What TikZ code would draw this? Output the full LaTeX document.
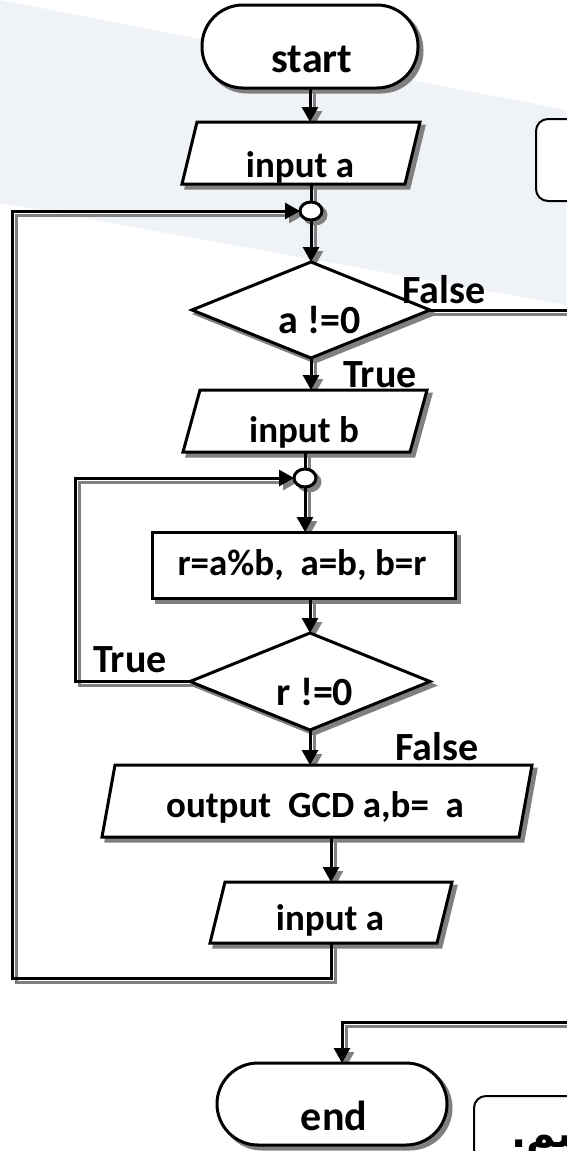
\documentclass[tikz,border=0pt]{standalone}
\usepackage{fontspec}
\setmainfont{Carlito}
\newfontfamily\arabicfont[Script=Arabic]{DejaVu Sans}
\TeXXeTstate=1
\usetikzlibrary{shapes.geometric,shadows,arrows.meta}
\pgfdeclarelayer{back}
\pgfdeclarelayer{lineshadow}
\pgfsetlayers{back,lineshadow,main}
\definecolor{shadowgray}{HTML}{808080}
\definecolor{bandblue}{HTML}{EFF2F6}

\tikzset{
  base/.style={draw=black, line width=3pt, fill=white, inner sep=0pt, outer sep=0pt,
    drop shadow={shadow xshift=4pt, shadow yshift=-4pt, fill=shadowgray,
                 draw=shadowgray, line width=3pt, opacity=1}},
  terminal/.style={base, rectangle, rounded corners=41pt, minimum height=83pt},
  decision/.style={base, diamond},
  process/.style={base, rectangle},
  junction/.style={base, ellipse, minimum width=22pt, minimum height=18pt},
  frame/.style={inner sep=0pt, outer sep=0pt},
  paraout/.style={fill=white, draw=black, line width=3pt},
  parashadow/.style={fill=shadowgray, draw=shadowgray, line width=3pt, shift={(4,4)}},
  notebox/.style={draw=black, line width=2pt, fill=white, rounded corners=12pt, inner sep=0pt},
  flow/.style={draw=black, line width=3pt},
  shadowline/.style={draw=shadowgray, line width=3pt, transform canvas={xshift=4pt,yshift=-4pt}},
  arrowed/.style={-{Triangle[length=15pt,width=16pt]}},
  txt/.style={inner sep=0pt, font=\bfseries\fontsize{37}{37}\selectfont},
  bigtxt/.style={inner sep=0pt, font=\bfseries\fontsize{42}{42}\selectfont},
  lbl/.style={inner sep=0pt, font=\bfseries\fontsize{40}{40}\selectfont},
}

% connector with its grey offset shadow underneath the shapes
\newcommand\flowpath[2][]{%
  \begin{pgfonlayer}{lineshadow}\draw[shadowline,#1] #2;\end{pgfonlayer}%
  \draw[flow,#1] #2;}

% input/output parallelogram: name, centre x, centre y, width, height, slant
\newcommand\parabox[6]{%
  \node[frame, minimum width=#4pt, minimum height=#5pt] (#1) at (#2,#3) {};
  \path[parashadow] ({#2-#4/2},{#3+#5/2}) -- ({#2-#4/2+#6},{#3-#5/2})
     -- ({#2+#4/2},{#3-#5/2}) -- ({#2+#4/2-#6},{#3+#5/2}) -- cycle;
  \path[paraout] ({#2-#4/2},{#3+#5/2}) -- ({#2-#4/2+#6},{#3-#5/2})
     -- ({#2+#4/2},{#3-#5/2}) -- ({#2+#4/2-#6},{#3+#5/2}) -- cycle;}

\begin{document}
\begin{tikzpicture}[x=1pt, y=-1pt]
\useasboundingbox (0,0) rectangle (566,1151);

% pale band behind the upper part
\begin{pgfonlayer}{back}
  \fill[bandblue] (0,0) -- (566,110) -- (566,305) -- (0,203) -- cycle;
\end{pgfonlayer}

% side notes, cut by the page edge
\node[notebox, anchor=north west, minimum width=110pt, minimum height=82pt] (noteTop) at (535,118) {};
\node[notebox, anchor=north west, minimum width=130pt, minimum height=110pt] (noteBot) at (473,1095) {};
\node[anchor=base west, inner sep=0pt, font=\arabicfont\bfseries\fontsize{40}{40}\selectfont]
  (noteBotT) at (511,1147) {\beginR ^^^^200dسم.\endR};

% shapes
\node[terminal, minimum width=216pt] (start) at (310,46.5) {};
\parabox{ina1}{301}{153}{238}{62}{15}
\node[junction] (j1) at (311,211) {};
\node[decision, minimum width=238pt, minimum height=96pt] (d1) at (311,310) {};
\parabox{inb}{305}{421}{244}{62}{17}
\node[junction] (j2) at (305,478) {};
\node[process, minimum width=303pt, minimum height=66pt] (proc) at (303.5,565) {};
\node[decision, minimum width=240pt, minimum height=97pt] (d2) at (310,681.5) {};
\parabox{out}{317}{801}{430}{72}{13}
\parabox{ina2}{331}{912.5}{242}{61}{15}
\node[terminal, minimum width=230pt, minimum height=82pt] (end) at (332,1104) {};

% texts
\node[bigtxt, anchor=base] (startT) at (312,72) {start};
\node[txt, anchor=base] (ina1T) at (300,177) {input a};
\node[lbl, anchor=base] (d1T) at (320,333) {a !=0};
\node[txt, anchor=base] (inbT) at (304,442) {input b};
\node[txt, anchor=base] (procT) at (302,575) {r=a\%b,\ \ a=b, b=r};
\node[lbl, anchor=base] (d2T) at (315,705) {r !=0};
\node[txt, anchor=base] (outT) at (315,817) {output\ \ GCD a,b=\ \ a};
\node[txt, anchor=base] (ina2T) at (330,930) {input a};
\node[bigtxt, anchor=base] (endT) at (334,1130) {end};

\node[lbl, anchor=base west] (f1) at (402,303) {False};
\node[lbl, anchor=base west] (t1) at (343,387) {True};
\node[lbl, anchor=base west] (t2) at (93,672) {True};
\node[lbl, anchor=base west] (f2) at (395,760) {False};

% bend points of the loops and of the exit path
\coordinate (loopA) at (12,978);
\coordinate (loopB) at (75,681.5);
\coordinate (offR) at (600,310);
\coordinate (endBend) at (342,1022);

% connectors
\flowpath[arrowed]{(start.south) -- (start.south |- ina1.north)}
\flowpath{(ina1.south -| j1.north) -- (j1.north)}
\flowpath[arrowed]{(j1.south) -- (j1.south |- d1.north)}
\flowpath[arrowed]{(d1.south) -- (d1.south |- inb.north)}
\flowpath{(inb.south -| j2.north) -- (j2.north)}
\flowpath[arrowed]{(j2.south) -- (j2.south |- proc.north)}
\flowpath[arrowed]{(proc.south -| d2.north) -- (d2.north)}
\flowpath[arrowed]{(d2.south) -- (d2.south |- out.north)}
\flowpath[arrowed]{(out.south -| ina2.north) -- (ina2.north)}
\flowpath[arrowed]{(ina2.south) |- (loopA) |- (j1.west)}
\flowpath[arrowed]{(d2.west) -- (loopB) |- (j2.west)}
\flowpath[arrowed]{(d1.east) -- (offR) |- (endBend) -- (endBend |- end.north)}
\end{tikzpicture}
\end{document}
